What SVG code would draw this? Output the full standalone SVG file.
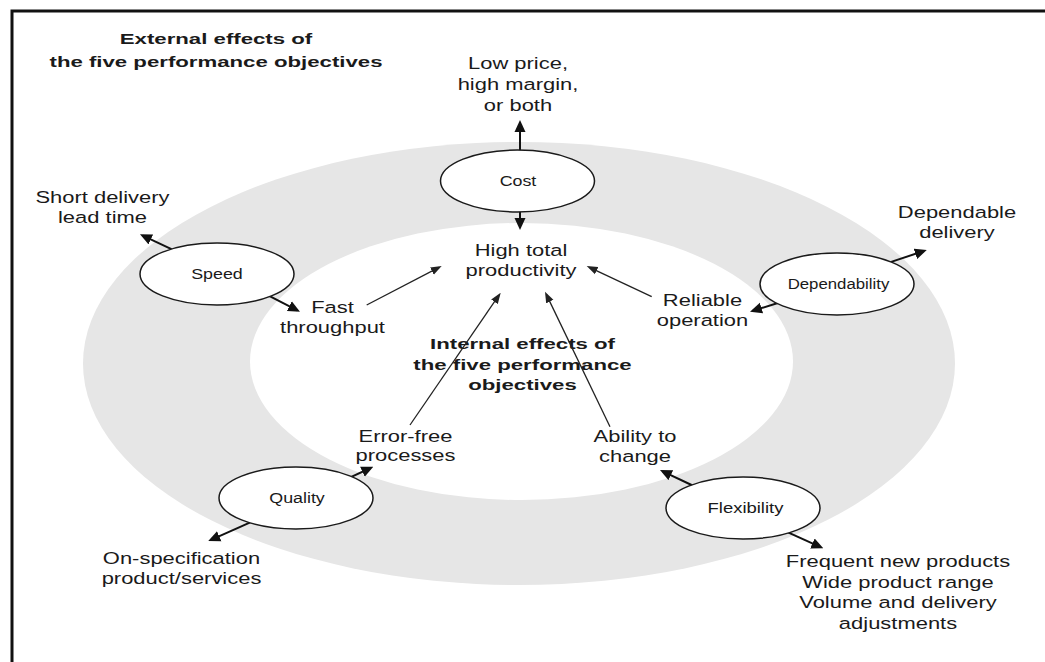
<svg xmlns="http://www.w3.org/2000/svg" width="1045" height="662" viewBox="0 0 1045 662">
<style>
text{font-family:"Liberation Sans",Arial,sans-serif;fill:#1a1a1a;text-anchor:middle}
.lbl{font-size:16.5px}
.ttl{font-size:15px;font-weight:bold}
.nd{font-size:15px}
.node{fill:#fff;stroke:#1a1a1a;stroke-width:1.5}
.thick{stroke:#111;stroke-width:2;fill:none;marker-end:url(#hb)}
.thin{stroke:#222;stroke-width:1.3;fill:none;marker-end:url(#ht)}
</style>
<defs>
<marker id="hb" viewBox="0 0 12 12" refX="9" refY="6" markerWidth="12" markerHeight="12" orient="auto" markerUnits="userSpaceOnUse"><path d="M0,0.5 L12,6 L0,11.5 z" fill="#111"/></marker>
<marker id="ht" viewBox="0 0 11 9" refX="8" refY="4.5" markerWidth="11" markerHeight="9" orient="auto" markerUnits="userSpaceOnUse"><path d="M0,0.5 L11,4.5 L0,8.5 z" fill="#222"/></marker>
</defs>
<rect width="1045" height="662" fill="#fff"/>
<path d="M12,662 V11 H1045" fill="none" stroke="#111" stroke-width="3"/>
<g id="bands">
<ellipse cx="519" cy="363.5" rx="436" ry="221.5" fill="#e6e6e6"/>
<ellipse cx="521.5" cy="361.5" rx="271.5" ry="138.5" fill="#fff"/>
</g>
<g id="titles">
<text class="ttl" transform="translate(216) scale(1.48,1)"><tspan x="0" y="44">External effects of</tspan><tspan x="0" y="67.5">the five performance objectives</tspan></text>
<text class="ttl" transform="translate(522.5) scale(1.48,1)"><tspan x="0" y="349.5">Internal effects of</tspan><tspan x="0" y="370">the five performance</tspan><tspan x="0" y="390.5">objectives</tspan></text>
</g>
<g id="connectors">
<line class="thick" x1="520" y1="152" x2="520" y2="123"/>
<line class="thick" x1="520" y1="210" x2="520" y2="227"/>
<line class="thick" x1="172" y1="249.3" x2="142.7" y2="235.6"/>
<line class="thick" x1="268.7" y1="295.7" x2="297.3" y2="310.3"/>
<line class="thick" x1="778.7" y1="302.7" x2="752.9" y2="310.8"/>
<line class="thick" x1="889.7" y1="262.4" x2="923.9" y2="251"/>
<line class="thick" x1="349.7" y1="477.6" x2="370.6" y2="468"/>
<line class="thick" x1="250.3" y1="522.4" x2="211" y2="539.8"/>
<line class="thick" x1="693.7" y1="486" x2="662.7" y2="471.3"/>
<line class="thick" x1="788" y1="532.4" x2="820.6" y2="547.1"/>
<line class="thin" x1="366.7" y1="305" x2="439" y2="267.4"/>
<line class="thin" x1="410" y1="425" x2="499" y2="295.2"/>
<line class="thin" x1="610" y1="426.7" x2="546.3" y2="294.4"/>
<line class="thin" x1="651.7" y1="296.7" x2="589.4" y2="267.3"/>
</g>
<g id="cost">
<ellipse class="node" cx="517.5" cy="181" rx="77" ry="31"/>
<text class="nd" transform="translate(518) scale(1.19,1)" x="0" y="186.5">Cost</text>
</g>
<g id="speed">
<ellipse class="node" cx="217" cy="274" rx="77" ry="31"/>
<text class="nd" transform="translate(217) scale(1.19,1)" x="0" y="279.5">Speed</text>
</g>
<g id="dependability">
<ellipse class="node" cx="837" cy="284" rx="77" ry="31"/>
<text class="nd" transform="translate(838.5) scale(1.12,1)" x="0" y="289">Dependability</text>
</g>
<g id="quality">
<ellipse class="node" cx="296" cy="498" rx="77" ry="31"/>
<text class="nd" transform="translate(297) scale(1.19,1)" x="0" y="503.5">Quality</text>
</g>
<g id="flexibility">
<ellipse class="node" cx="743" cy="508" rx="77" ry="31"/>
<text class="nd" transform="translate(745.5) scale(1.23,1)" x="0" y="513.5">Flexibility</text>
</g>
<g id="low-price">
<text class="lbl" transform="translate(518) scale(1.33,1)"><tspan x="0" y="69.5">Low price,</tspan><tspan x="0" y="90.5">high margin,</tspan><tspan x="0" y="111.5">or both</tspan></text>
</g>
<g id="high-total-productivity">
<text class="lbl" transform="translate(521) scale(1.33,1)"><tspan x="0" y="256">High total</tspan><tspan x="0" y="276.5">productivity</tspan></text>
</g>
<g id="short-delivery">
<text class="lbl" transform="translate(102.5) scale(1.33,1)"><tspan x="0" y="202.7">Short delivery</tspan><tspan x="0" y="222.7">lead time</tspan></text>
</g>
<g id="fast-throughput">
<text class="lbl" transform="translate(332.5) scale(1.33,1)"><tspan x="0" y="313.3">Fast</tspan><tspan x="0" y="333.3">throughput</tspan></text>
</g>
<g id="dependable-delivery">
<text class="lbl" transform="translate(957) scale(1.33,1)"><tspan x="0" y="218.3">Dependable</tspan><tspan x="0" y="238.3">delivery</tspan></text>
</g>
<g id="reliable-operation">
<text class="lbl" transform="translate(702.5) scale(1.33,1)"><tspan x="0" y="306">Reliable</tspan><tspan x="0" y="326">operation</tspan></text>
</g>
<g id="error-free">
<text class="lbl" transform="translate(405.5) scale(1.33,1)"><tspan x="0" y="441.7">Error-free</tspan><tspan x="0" y="461">processes</tspan></text>
</g>
<g id="ability-to-change">
<text class="lbl" transform="translate(635) scale(1.33,1)"><tspan x="0" y="441.7">Ability to</tspan><tspan x="0" y="461.7">change</tspan></text>
</g>
<g id="on-specification">
<text class="lbl" transform="translate(181.5) scale(1.33,1)"><tspan x="0" y="564.5">On-specification</tspan><tspan x="0" y="584">product/services</tspan></text>
</g>
<g id="flexibility-effects">
<text class="lbl" transform="translate(898) scale(1.33,1)"><tspan x="0" y="567.5">Frequent new products</tspan><tspan x="0" y="588">Wide product range</tspan><tspan x="0" y="608.5">Volume and delivery</tspan><tspan x="0" y="629">adjustments</tspan></text>
</g>
</svg>
